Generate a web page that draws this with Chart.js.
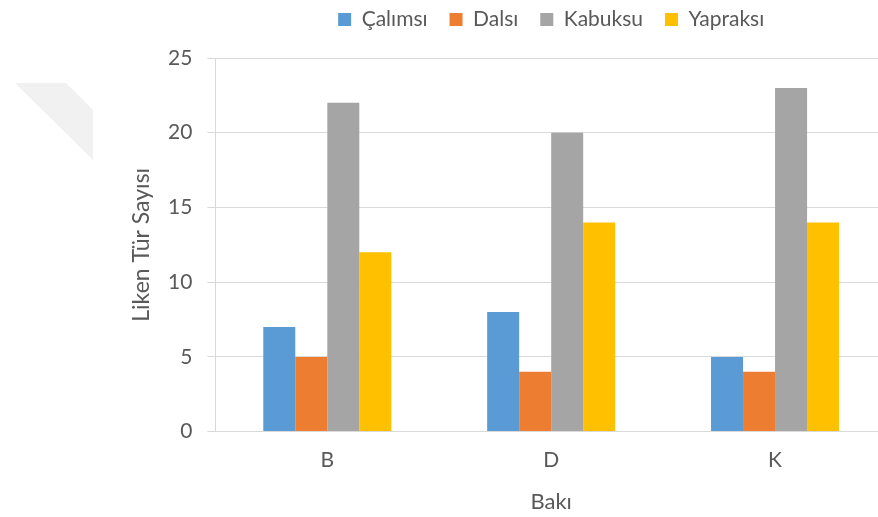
<!DOCTYPE html>
<html>
<head>
<meta charset="utf-8">
<script src="https://cdn.jsdelivr.net/npm/chart.js@4/dist/chart.umd.min.js"></script>
<style>
    html, body { margin: 0; padding: 0; background: #fff; overflow: hidden; }
    #wrap { width: 890px; height: 517px; }
</style>
</head>
<body>
<div id="wrap"><canvas id="likenChart" width="890" height="517"></canvas></div>
<script>
(function() {
    'use strict';

    const categories = ['B', 'D', 'K'];
    const seriesNames = ['Çalımsı', 'Dalsı', 'Kabuksu', 'Yapraksı'];
    const calimsi = [7, 8, 5];
    const dalsi = [5, 4, 4];
    const kabuksu = [22, 20, 23];
    const yapraksi = [12, 14, 14];
    const yTicks = [0, 5, 10, 15, 20, 25];

    const colors = ['#5B9BD5', '#ED7D31', '#A5A5A5', '#FFC000'];
    const values = [calimsi, dalsi, kabuksu, yapraksi];
    const textColor = '#595959';
    const fontFamily = 'Lato, "Open Sans", sans-serif';

    // faint page-corner shape seen in the top left of the original
    const cornerShade = {
        id: 'cornerShade',
        beforeDraw(chart) {
            const c = chart.ctx;
            c.save();
            c.fillStyle = '#F1F1F1';
            c.beginPath();
            c.moveTo(15, 83);
            c.lineTo(66, 83);
            c.lineTo(93, 110);
            c.lineTo(93, 160);
            c.closePath();
            c.fill();
            c.restore();
        }
    };

    // fixed legend band so the plot starts where the original does
    const legendGap = {
        id: 'legendGap',
        beforeInit(chart) {
            const fit = chart.legend.fit;
            chart.legend.fit = function() {
                fit.call(this);
                this.height = 71;
            };
        }
    };

    const ctx = document.getElementById('likenChart');
    new Chart(ctx, {
        type: 'bar',
        data: {
            labels: categories,
            datasets: seriesNames.map((name, i) => ({
                label: name,
                data: values[i],
                backgroundColor: colors[i],
                borderWidth: 0,
                categoryPercentage: 0.572,
                barPercentage: 1.0
            }))
        },
        options: {
            responsive: false,
            animation: false,
            layout: {
                padding: { left: 130, right: 3, top: -13, bottom: 2 }
            },
            plugins: {
                tooltip: { enabled: false },
                legend: {
                    position: 'top',
                    fullSize: false,
                    labels: {
                        boxWidth: 13,
                        boxHeight: 13,
                        padding: 22,
                        color: textColor,
                        font: { family: fontFamily, size: 21 }
                    }
                }
            },
            scales: {
                x: {
                    grid: { display: false, drawTicks: false },
                    border: { color: '#D9D9D9', width: 1 },
                    ticks: {
                        padding: 18,
                        color: textColor,
                        font: { family: fontFamily, size: 21, lineHeight: 1.0 }
                    },
                    title: {
                        display: true,
                        text: 'Bakı',
                        color: textColor,
                        padding: { top: 0, bottom: 0 },
                        font: { family: fontFamily, size: 22 }
                    }
                },
                y: {
                    min: 0,
                    max: 25,
                    afterBuildTicks(axis) {
                        axis.ticks = yTicks.map(v => ({ value: v }));
                    },
                    grid: {
                        color: '#D9D9D9',
                        tickLength: 8,
                        drawTicks: true
                    },
                    border: { color: '#D9D9D9', width: 1 },
                    ticks: {
                        padding: 15,
                        color: textColor,
                        font: { family: fontFamily, size: 21 }
                    },
                    title: {
                        display: true,
                        text: 'Liken Tür Sayısı',
                        color: textColor,
                        padding: { top: 0, bottom: 0 },
                        font: { family: fontFamily, size: 23, lineHeight: 1.0 }
                    }
                }
            }
        },
        plugins: [cornerShade, legendGap]
    });
})();
</script>
</body>
</html>
